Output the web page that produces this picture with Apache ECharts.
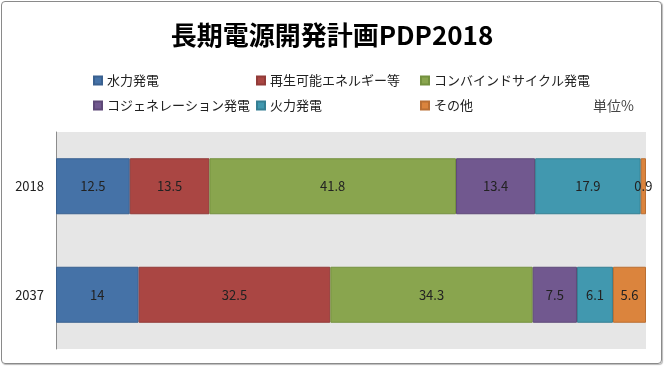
<!DOCTYPE html>
<html><head><meta charset="utf-8">
<script src="https://cdn.jsdelivr.net/npm/echarts@6/dist/echarts.min.js"></script>
<style>
html,body{margin:0;padding:0;background:#fff;}
#frame{position:absolute;left:1px;top:1px;width:659px;height:361px;border:1px solid #8a8a8a;border-radius:4px;box-shadow:1px 1px 1px #bbb;}
#c{position:absolute;left:0;top:0;width:664px;height:366px;}
</style></head>
<body>
<div id="frame"></div>
<div id="c"></div>
<script>
const categories = ['2018', '2037'];
const seriesNames = ['水力発電', '再生可能エネルギー等', 'コンバインドサイクル発電', 'コジェネレーション発電', '火力発電', 'その他'];
const hydro = [12.5, 14];
const renewable = [13.5, 32.5];
const combined = [41.8, 34.3];
const cogeneration = [13.4, 7.5];
const thermal = [17.9, 6.1];
const other = [0.9, 5.6];
const seriesValues = [hydro, renewable, combined, cogeneration, thermal, other];
const colors = ['#4572A7', '#AA4643', '#89A54E', '#71588F', '#4198AF', '#DB843D'];
const borders = ['#3A6190', '#923B39', '#74913F', '#5E4978', '#357F93', '#BA6F33'];

const font = '"Noto Sans CJK JP", "Noto Sans", sans-serif';
const chart = echarts.init(document.getElementById('c'));
const legendCol = (x, names) => ({
  left: x, top: 69, orient: 'vertical', itemGap: 12,
  itemWidth: 8, itemHeight: 8, icon: 'rect', data: names,
  textStyle: {fontFamily: font, fontSize: 13, color: '#222'}
});
chart.setOption({
  animation: false,
  textStyle: {fontFamily: font},
  title: [{
    text: '長期電源開発計画PDP2018', left: 'center', top: 17,
    textStyle: {fontFamily: font, fontSize: 26, fontWeight: 'bold', color: '#000'}
  }, {
    text: '単位%', left: 588, top: 94,
    textStyle: {fontFamily: font, fontSize: 14, fontWeight: 'normal', color: '#444'}
  }],
  legend: [
    legendCol(88, [seriesNames[0], seriesNames[3]]),
    legendCol(251, [seriesNames[1], seriesNames[4]]),
    legendCol(415, [seriesNames[2], seriesNames[5]])
  ],
  grid: {left: 56, right: 18, top: 132, bottom: 17, show: true, backgroundColor: '#E6E6E6', borderWidth: 0},
  xAxis: {type: 'value', min: 0, max: 100, show: false},
  yAxis: {
    type: 'category', data: categories, inverse: true,
    axisLine: {show: true, lineStyle: {color: '#8c8c8c', width: 1}},
    axisTick: {show: false},
    axisLabel: {fontFamily: font, fontSize: 13, color: '#222', margin: 12}
  },
  series: seriesNames.map((n, i) => ({
    name: n, type: 'bar', stack: 'total', barWidth: 56,
    data: seriesValues[i],
    itemStyle: {color: colors[i], borderColor: borders[i], borderWidth: 1},
    label: {show: true, position: 'inside', fontFamily: font, fontSize: 13, color: '#222'}
  }))
});
</script>
</body></html>
